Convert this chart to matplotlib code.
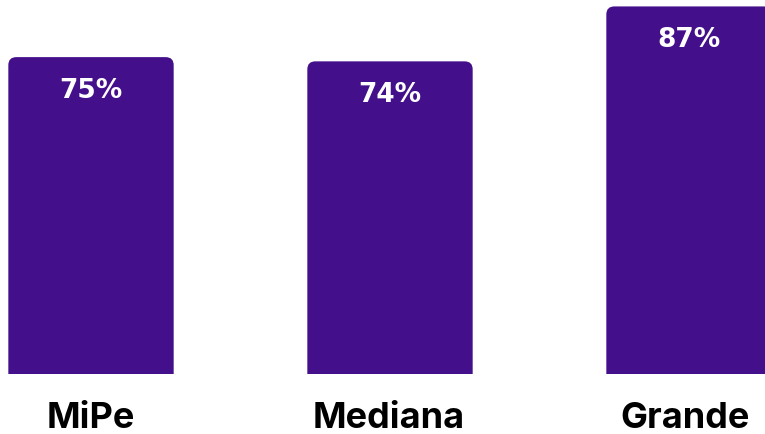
import matplotlib
matplotlib.use("Agg")
import matplotlib.pyplot as plt
from matplotlib.patches import FancyBboxPatch

categories = ["MiPe", "Mediana", "Grande"]
values = [75, 74, 87]
value_labels = ["75%", "74%", "87%"]

bar_color = "#430F8A"
bar_width = 0.553
px_x = 1 / 299.0      # data units per pixel (x)
px_y = 1 / 4.225      # data units per pixel (y)

fig = plt.figure(figsize=(7.65, 4.34), dpi=100)
ax = fig.add_axes([0, 60 / 434, 1, 374 / 434])
ax.set_xlim(-91 * px_x, 674 * px_x)
ax.set_ylim(0, 374 * px_y)
ax.axis("off")

r = 8 * px_x
for i, v in enumerate(values):
    # rounded top corners; extend below 0 so bottom corners get clipped
    patch = FancyBboxPatch((i - bar_width / 2 + r, -20), bar_width - 2 * r, v + 20 - r * (px_y / px_x),
                           boxstyle="round,pad=%f,rounding_size=%f" % (r, r),
                           mutation_aspect=px_y / px_x,
                           facecolor=bar_color, edgecolor="none")
    ax.add_patch(patch)
    ax.annotate(value_labels[i], (i, v), xytext=(0, -34), textcoords="offset pixels",
                ha="center", va="center", color="white", fontsize=19,
                fontweight="bold", family="DejaVu Sans")
    ax.annotate(categories[i], (i - 0.006 * i, 0), xytext=(0, -44), textcoords="offset pixels",
                ha="center", va="center", color="black", fontsize=26,
                fontweight="bold", family="Inter", annotation_clip=False)

fig.savefig("out.png", dpi=100)
